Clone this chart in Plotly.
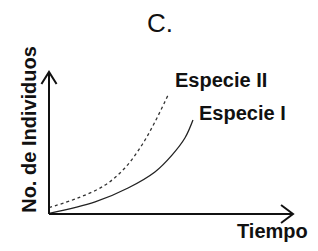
import plotly.graph_objects as go

x_especie_ii = [0, 1.19, 2.3, 3.11, 3.81, 4.34, 4.88]
y_especie_ii = [0.45, 1.13, 2.04, 3.24, 4.86, 6.48, 8.38]
x_especie_i = [0, 1.89, 3.24, 4.34, 5.04, 5.57, 5.9]
y_especie_i = [0.04, 0.85, 1.83, 2.96, 4.15, 5.35, 6.62]
labels = ["Especie II", "Especie I"]
label_x = [5.08, 6.07]
label_y = [9.47, 7.08]

FONT = "Liberation Sans, Arial, sans-serif"

fig = go.Figure()
fig.add_trace(go.Scatter(x=x_especie_ii, y=y_especie_ii, mode="lines",
                         line=dict(color="#333", width=1.3, dash="dot", shape="spline"),
                         showlegend=False, hoverinfo="skip"))
fig.add_trace(go.Scatter(x=x_especie_i, y=y_especie_i, mode="lines",
                         line=dict(color="#222", width=1.3, shape="spline"),
                         showlegend=False, hoverinfo="skip"))

annots = []
for t, lx, ly in zip(labels, label_x, label_y):
    annots.append(dict(x=lx, y=ly, text="<b>" + t + "</b>", showarrow=False,
                       xanchor="left", yanchor="middle",
                       font=dict(family=FONT, size=20, color="#111")))

annots += [
    dict(xref="paper", yref="paper", x=1.07, y=-0.12, text="<b>Tiempo</b>",
         showarrow=False, xanchor="right", yanchor="middle",
         font=dict(family=FONT, size=20, color="#111")),
    dict(xref="paper", yref="paper", x=-0.082, y=0.6, text="<b>No. de Individuos</b>",
         showarrow=False, textangle=-90, xanchor="center", yanchor="middle",
         font=dict(family=FONT, size=20, color="#111")),
]

# axes lines with open arrowheads
line = dict(color="#111", width=2)
shapes = [
    dict(type="line", xref="paper", yref="paper", x0=0, y0=0, x1=1.0, y1=0, line=line),
    dict(type="line", xref="paper", yref="paper", x0=0, y0=0, x1=0, y1=1.0, line=line),
    dict(type="path", xref="paper", yref="paper",
         path="M 0.951,0.063 L 1.0,0 L 0.951,-0.063", line=line),
    dict(type="path", xref="paper", yref="paper",
         path="M -0.031,0.915 L 0,1.0 L 0.031,0.915", line=line),
]

fig.update_layout(
    width=318, height=251,
    margin=dict(l=49, r=25, t=72, b=37),
    paper_bgcolor="white", plot_bgcolor="white",
    xaxis=dict(range=[0, 10], visible=False, fixedrange=True),
    yaxis=dict(range=[0, 10], visible=False, fixedrange=True),
    title=dict(text="C.", x=0.503, xanchor="center", y=0.908, yanchor="middle",
               font=dict(family=FONT, size=26, color="#111")),
    annotations=annots,
    shapes=shapes,
)

fig.write_html("out.html")
